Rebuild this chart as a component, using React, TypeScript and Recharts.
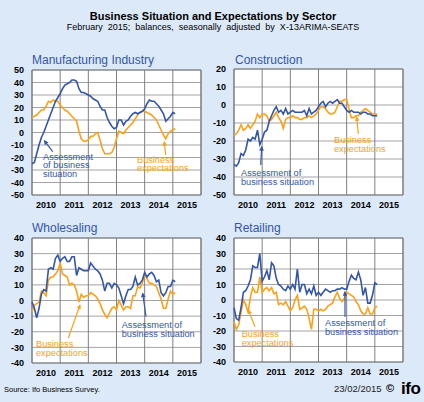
import React from "react";
import {
  LineChart,
  Line,
  XAxis,
  YAxis,
  CartesianGrid,
  ReferenceArea,
} from "recharts";

// monthly balances, Jan 2010 .. Feb 2015
const years = ["2010", "2011", "2012", "2013", "2014", "2015"];

const mfgSituation = [
  -25, -24, -17, -10, -4, 0, 5, 10, 15, 20, 25, 28, 31, 35, 38, 39, 40, 42, 42, 41,
  35, 32, 32, 31, 30, 29, 27, 26, 25, 21, 18, 18, 12, 8, 5, 3, 4, 10, 10, 6,
  9, 10, 13, 15, 16, 15, 16, 17, 19, 23, 26, 25, 25, 23, 21, 18, 15, 9, 11, 13,
  16, 15,
];
const mfgExpectations = [
  12, 13, 14, 16, 18, 18, 21, 25, 24, 26, 25, 25, 22, 20, 18, 17, 15, 13, 11, 9,
  1, -5, -7, -7, -6, -3, -3, -1, 0, -6, -13, -17, -17, -17, -16, -12, -5, 1, 0, -1,
  2, 4, 6, 8, 11, 14, 16, 17, 17, 16, 15, 14, 12, 10, 6, 2, -2, -5, -1, 1,
  2, 3,
];
const conSituation = [
  -33, -34, -32, -27, -28, -25, -19, -20, -18, -19, -14, -22, -19, -15, -14, -9, -6, -3, -1, -4,
  -3, -5, -2, -5, -4, -3, -4, -4, -4, -4, -3, -6, -2, -5, -4, -3, -1, 1, 2, -1,
  1, 2, 1, 2, 3, 1, 1, -1, -3, -4, -3, -4, -4, -4, -5, -4, -4, -5, -5, -6,
  -6, -6,
];
const conExpectations = [
  -17, -16, -14, -11, -14, -13, -11, -13, -11, -9, -5, -7, -5, -5, -6, -9, -8, -6, -4, -7,
  -9, -13, -8, -7, -7, -6, -7, -7, -8, -8, -7, -7, -6, -7, -6, -5, -3, -1, -1, -2,
  -4, -5, -5, -4, -1, 2, 2, 3, 3, -2, -7, -7, -6, -6, -4, -3, -2, -3, -4, -5,
  -5, -5,
];
const wsSituation = [
  -1, -5, -11, -5, 4, 7, 6, 20, 21, 20, 27, 29, 25, 27, 28, 25, 25, 28, 28, 16,
  21, 20, 19, 19, 19, 24, 22, 20, 19, 17, 13, 6, 11, 11, 8, 11, 10, 8, 3, -2,
  3, 7, 7, 9, 15, 10, 11, 13, 18, 15, 17, 18, 16, 12, 13, 5, 3, 5, 9, 9,
  13, 12,
];
const wsExpectations = [
  -7, -3, -2, -1, 6, 5, 3, 13, 15, 15, 17, 19, 24, 17, 16, 15, 10, 11, 10, 6,
  -1, 4, 2, 3, 3, 5, 4, 3, 1, -2, -6, -9, -11, -8, -5, -4, -6, 0, -3, -6,
  -4, -4, -5, 3, 3, 9, 8, 11, 17, 14, 11, 11, 10, 9, 5, 1, -5, -5, 1, 6,
  4, 5,
];
const rtSituation = [
  -5, -12, -13, -5, 5, 6, 9, 13, 22, 21, 21, 30, 12, 15, 19, 13, 24, 22, 14, 10,
  9, 7, 6, 9, 7, 10, 7, 20, 5, 10, 10, 4, 7, 4, 9, 3, 5, 3, 5, 7,
  6, 5, 6, 6, 7, 7, 8, 7, 7, 12, 16, 14, 13, 18, 13, 3, 8, -2, -2, 3,
  11, 10,
];
const rtExpectations = [
  -14, -19, -16, -8, 0, -3, -8, 2, 8, 5, 5, 15, 5, 7, 8, 6, 8, 4, 5, -3,
  -2, -3, -1, -4, -7, -5, 0, 3, -6, -5, -4, -6, -12, -19, -6, -6, -7, -6, -7, -6,
  -4, -3, -2, 2, 5, 1, -1, 1, 5, 4, 3, 2, -1, -3, -7, -9, -9, -5, -9, -9,
  -5, -4,
];

const BLUE = "#3456a6";
const ORANGE = "#f7a21b";
const BG = "#dce9f8";
const FONT = "'Liberation Sans', Arial, sans-serif";

const toRows = (sit: number[], exp: number[]) =>
  sit.map((s, i) => ({ m: i, sit: s, exp: exp[i] }));

const yearBounds = years.map((_, i) => i * 12).concat(years.length * 12);
const yearMids = years.map((_, i) => i * 12 + 6);

type PanelProps = {
  x: number;
  y: number;
  w: number;
  h: number;
  yMin: number;
  yMax: number;
  data: { m: number; sit: number; exp: number }[];
};

const Panel = ({ x, y, w, h, yMin, yMax, data }: PanelProps) => {
  const yTicks: number[] = [];
  for (let v = yMin; v <= yMax; v += 10) yTicks.push(v);
  const ml = 32;
  const mt = 6;
  const mr = 6;
  const xh = 18;
  const tick = { fill: "#000", fontSize: 9, fontWeight: 700, fontFamily: FONT };
  return (
    <div style={{ position: "absolute", left: x - ml, top: y - mt }}>
      <LineChart
        width={ml + w + mr}
        height={mt + h + xh}
        data={data}
        margin={{ top: mt, right: mr, bottom: 0, left: 0 }}
      >
        <CartesianGrid fill="#fff" vertical={false} stroke="#a3a3a3" />
        <CartesianGrid xAxisId="g" horizontal={false} stroke="#808080" />
        <XAxis
          xAxisId="g"
          dataKey="m"
          type="number"
          domain={[0, 72]}
          ticks={yearBounds}
          hide
        />
        <XAxis
          dataKey="m"
          type="number"
          domain={[0, 72]}
          ticks={yearMids}
          interval={0}
          tickFormatter={(v) => years[(v - 6) / 12]}
          tickLine={false}
          axisLine={false}
          tickMargin={1}
          height={xh}
          tick={tick}
        />
        <YAxis
          type="number"
          domain={[yMin, yMax]}
          ticks={yTicks}
          interval={0}
          tickLine={false}
          axisLine={false}
          width={ml}
          tick={tick}
        />
        <ReferenceArea
          x1={0}
          x2={72}
          y1={yMin}
          y2={yMax}
          fill="none"
          stroke="#7a7a7a"
          strokeWidth={1}
        />
        <Line
          dataKey="exp"
          type="linear"
          stroke={ORANGE}
          strokeWidth={1.6}
          dot={false}
          isAnimationActive={false}
        />
        <Line
          dataKey="sit"
          type="linear"
          stroke={BLUE}
          strokeWidth={1.6}
          dot={false}
          isAnimationActive={false}
        />
      </LineChart>
    </div>
  );
};

const Note = ({ x, y, lines, color }: { x: number; y: number; lines: string[]; color: string }) => (
  <text x={x} y={y} fill={color} fontSize={9.2} fontFamily={FONT}>
    {lines.map((l, i) => (
      <tspan key={i} x={x} dy={i === 0 ? 0 : 8.8}>
        {l}
      </tspan>
    ))}
  </text>
);

const Arrow = ({ x1, y1, x2, y2, color, id }: { x1: number; y1: number; x2: number; y2: number; color: string; id: string }) => (
  <line x1={x1} y1={y1} x2={x2} y2={y2} stroke={color} strokeWidth={1.2} markerEnd={`url(#${id})`} />
);

export default function App() {
  return (
    <div
      style={{
        position: "absolute",
        left: 0,
        top: 0,
        width: 424,
        height: 402,
        background: BG,
        fontFamily: FONT,
        overflow: "hidden",
      }}
    >
      <Panel x={32} y={70} w={169} h={125} yMin={-50} yMax={50} data={toRows(mfgSituation, mfgExpectations)} />
      <Panel x={234} y={69} w={169} h={126} yMin={-50} yMax={20} data={toRows(conSituation, conExpectations)} />
      <Panel x={32} y={238} w={169} h={125} yMin={-40} yMax={40} data={toRows(wsSituation, wsExpectations)} />
      <Panel x={234} y={238} w={169} h={124} yMin={-40} yMax={40} data={toRows(rtSituation, rtExpectations)} />

      <svg
        width={424}
        height={402}
        style={{ position: "absolute", left: 0, top: 0, pointerEvents: "none" }}
      >
        <defs>
          <marker id="hb" viewBox="0 0 6 6" refX="5" refY="3" markerWidth="4" markerHeight="4" orient="auto">
            <path d="M0,0 L6,3 L0,6 z" fill={BLUE} />
          </marker>
          <marker id="ho" viewBox="0 0 6 6" refX="5" refY="3" markerWidth="4" markerHeight="4" orient="auto">
            <path d="M0,0 L6,3 L0,6 z" fill={ORANGE} />
          </marker>
        </defs>

        <text x={213} y={19.5} textAnchor="middle" fontSize={11} fontWeight={700} fill="#000" fontFamily={FONT}>
          Business Situation and Expectations by Sector
        </text>
        <text x={213} y={30} textAnchor="middle" fontSize={9} fill="#000" fontFamily={FONT} wordSpacing={2.5}>
          February 2015; balances, seasonally adjusted by X-13ARIMA-SEATS
        </text>

        <text x={32} y={64} fontSize={12} fill={BLUE} fontFamily={FONT}>Manufacturing Industry</text>
        <text x={235} y={64} fontSize={12} fill={BLUE} fontFamily={FONT}>Construction</text>
        <text x={32} y={232} fontSize={12} fill={BLUE} fontFamily={FONT}>Wholesaling</text>
        <text x={234} y={232} fontSize={12} fill={BLUE} fontFamily={FONT}>Retailing</text>

        {/* manufacturing */}
        <Arrow x1={52.7} y1={151.7} x2={44.3} y2={140.7} color={BLUE} id="hb" />
        <Note x={43} y={159.5} lines={["Assessment", "of business", "situation"]} color={BLUE} />
        <Arrow x1={165.7} y1={155} x2={164.3} y2={141.7} color={ORANGE} id="ho" />
        <Note x={137} y={162.5} lines={["Business", "expectations"]} color={ORANGE} />

        {/* construction */}
        <Arrow x1={358.3} y1={134} x2={356.7} y2={117} color={ORANGE} id="ho" />
        <Note x={334} y={142.7} lines={["Business", "expectations"]} color={ORANGE} />
        <Arrow x1={260.7} y1={165} x2={261.7} y2={146.7} color={BLUE} id="hb" />
        <Note x={241} y={176} lines={["Assessment of", "business situation"]} color={BLUE} />

        {/* wholesaling */}
        <Arrow x1={68.3} y1={338} x2={80} y2={305} color={ORANGE} id="ho" />
        <Note x={36} y={347.3} lines={["Business", "expectations"]} color={ORANGE} />
        <Arrow x1={146} y1={316.7} x2={142.7} y2={293.3} color={BLUE} id="hb" />
        <Note x={121.7} y={327.7} lines={["Assessment of", "business situation"]} color={BLUE} />

        {/* retailing */}
        <Arrow x1={255} y1={326.7} x2={248.3} y2={310} color={ORANGE} id="ho" />
        <Note x={241.7} y={336.7} lines={["Business", "expectations"]} color={ORANGE} />
        <Arrow x1={345} y1={316.7} x2={345} y2={291.7} color={BLUE} id="hb" />
        <Note x={325} y={326} lines={["Assessment of", "business situation"]} color={BLUE} />

        <text x={4} y={392} fontSize={7.5} fill="#000" fontFamily={FONT}>Source: Ifo Business Survey.</text>
        <text x={334} y={392} fontSize={9.5} fill="#222" fontFamily={FONT}>23/02/2015</text>
        <text x={386} y={392} fontSize={11} fontWeight={700} fill="#000" fontFamily={FONT}>©</text>
        <text x={401} y={393.5} fontSize={17} fontWeight={700} fill="#000" fontFamily={FONT} letterSpacing={-0.5}>ifo</text>
      </svg>
    </div>
  );
}
